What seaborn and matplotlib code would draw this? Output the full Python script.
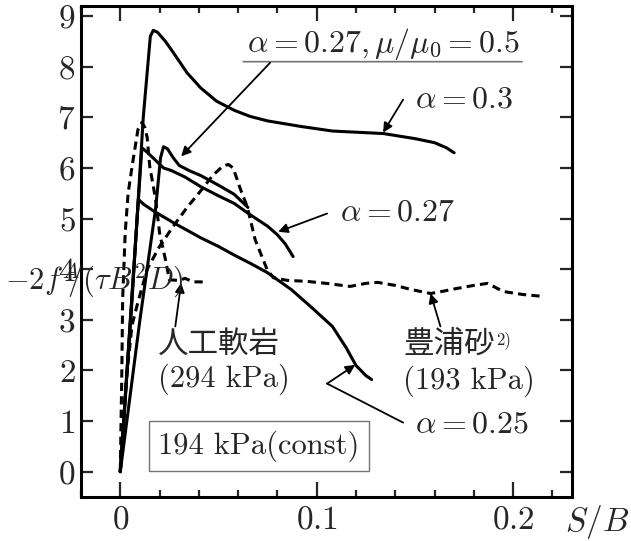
import numpy as np
import pandas as pd
import matplotlib
matplotlib.use('Agg')
import matplotlib.pyplot as plt
import seaborn as sns

# curves (S/B, -2f/(tau B^2 D))
A30_X = [0, 0.006, 0.0117, 0.0153, 0.0168, 0.019, 0.023, 0.027, 0.034, 0.041, 0.049, 0.058,
         0.066, 0.075, 0.092, 0.108, 0.134, 0.150, 0.160, 0.166, 0.170]
A30_Y = [0, 3.4, 7.0, 8.6, 8.72, 8.68, 8.5, 8.28, 7.88, 7.58, 7.32, 7.14,
         7.02, 6.93, 6.82, 6.73, 6.68, 6.58, 6.5, 6.4, 6.3]

A27MU_X = [0, 0.010, 0.018, 0.0205, 0.022, 0.024, 0.027, 0.030, 0.035, 0.041, 0.050, 0.058, 0.065]
A27MU_Y = [0, 3.0, 5.2, 6.2, 6.42, 6.38, 6.2, 6.05, 5.95, 5.85, 5.66, 5.48, 5.22]

A27_X = [0, 0.011, 0.014, 0.022, 0.026, 0.033, 0.041, 0.050, 0.058, 0.066, 0.075, 0.080, 0.084, 0.088]
A27_Y = [0, 6.4, 6.3, 6.0, 5.95, 5.82, 5.63, 5.45, 5.3, 5.08, 4.85, 4.68, 4.5, 4.25]

A25_X = [0, 0.0092, 0.012, 0.017, 0.027, 0.041, 0.050, 0.058, 0.067, 0.075, 0.087, 0.097,
         0.108, 0.115, 0.120, 0.125, 0.128]
A25_Y = [0, 5.38, 5.28, 5.15, 4.92, 4.62, 4.45, 4.28, 4.1, 3.93, 3.6, 3.26,
         2.87, 2.45, 2.1, 1.9, 1.82]

ROCK_X = [0, 0.0008, 0.0012, 0.0025, 0.004, 0.006, 0.009, 0.011, 0.0125, 0.0137, 0.015, 0.018,
          0.020, 0.023, 0.025, 0.030, 0.033, 0.037, 0.041, 0.044]
ROCK_Y = [0, 2.0, 3.4, 4.72, 5.5, 6.03, 6.76, 6.9, 6.8, 6.6, 6.03, 5.38,
          4.72, 4.19, 3.79, 3.78, 3.82, 3.75, 3.75, 3.73]

SAND_X = [0, 0.003, 0.006, 0.009, 0.0137, 0.020, 0.027, 0.034, 0.041, 0.047, 0.052, 0.055,
          0.0575, 0.061, 0.0646, 0.0687, 0.0748, 0.078, 0.085, 0.095, 0.105, 0.117, 0.125,
          0.131, 0.140, 0.148, 0.158, 0.165, 0.170, 0.180, 0.187, 0.195, 0.205, 0.216]
SAND_Y = [0, 1.8, 2.9, 3.35, 4.0, 4.45, 4.85, 5.22, 5.55, 5.85, 6.03, 6.07,
          6.0, 5.6, 5.24, 4.58, 3.99, 3.83, 3.78, 3.76, 3.72, 3.66, 3.72,
          3.74, 3.68, 3.6, 3.52, 3.57, 3.61, 3.68, 3.72, 3.56, 3.5, 3.46]

Y_TICKS = list(range(10))
X_TICKS = [0, 0.1, 0.2]
X_TICK_LABELS = ['0', '0.1', '0.2']

sns.set_style('ticks')
plt.rcParams['mathtext.fontset'] = 'cm'
plt.rcParams['font.family'] = ['cmr10', 'DejaVu Sans']
plt.rcParams['axes.unicode_minus'] = False

fig = plt.figure(figsize=(6.31, 5.41), dpi=100)
ax = fig.add_axes([81 / 631, 1 - 497 / 541, 491 / 631, 491 / 541])

curves = [
    (A30_X, A30_Y, '-'),
    (A27MU_X, A27MU_Y, '-'),
    (A27_X, A27_Y, '-'),
    (A25_X, A25_Y, '-'),
    (ROCK_X, ROCK_Y, '--'),
    (SAND_X, SAND_Y, '--'),
]
for xs, ys, ls in curves:
    sns.lineplot(x=xs, y=ys, ax=ax, color='k', lw=2.2, linestyle=ls,
                 sort=False, estimator=None)
    if ls == '--':
        ax.lines[-1].set_dashes([2.7, 1.7])

ax.set_xlim(-0.02, 0.23)
ax.set_ylim(-0.5, 9.2)
ax.set_yticks(Y_TICKS)
ax.set_yticklabels([f'${t}$' for t in Y_TICKS])
ax.set_xticks(X_TICKS)
ax.set_xticklabels([f'${t}$' for t in X_TICK_LABELS])
ax.set_xticks(np.arange(-0.02, 0.231, 0.02), minor=True)
ax.tick_params(axis='both', which='both', direction='in', top=True, right=True,
               width=1.6, labelsize=24)
ax.tick_params(axis='x', which='major', length=11, pad=6)
ax.tick_params(axis='x', which='minor', length=5)
ax.tick_params(axis='y', which='major', length=8.5, pad=4)
for sp in ax.spines.values():
    sp.set_linewidth(2.2)
    sp.set_color('k')

arrow = dict(arrowstyle='-|>', color='k', lw=1.3, shrinkA=0, shrinkB=0, mutation_scale=14)
FS = 23

# labels and arrows
ax.text(0.1338, 8.44, r'$\alpha=0.27,\mu/\mu_0=0.5$', fontsize=FS, ha='center', va='center')
ax.annotate('', xy=(0.2046, 8.10), xytext=(0.0626, 8.10),
            arrowprops=dict(arrowstyle='-', color='0.45', lw=1.2, shrinkA=0, shrinkB=0))
ax.annotate('', xy=(0.031, 6.23), xytext=(0.0763, 8.08), arrowprops=arrow)

ax.text(0.150, 7.35, r'$\alpha=0.3$', fontsize=FS, ha='left', va='center')
ax.annotate('', xy=(0.1338, 6.70), xytext=(0.144, 7.35), arrowprops=arrow)

ax.text(0.112, 5.12, r'$\alpha=0.27$', fontsize=FS, ha='left', va='center')
ax.annotate('', xy=(0.0804, 4.74), xytext=(0.1053, 5.10), arrowprops=arrow)

ax.text(0.0193, 2.51, '人工軟岩', fontsize=22, family=['Noto Sans CJK JP'],
        ha='left', va='center')
ax.text(0.0193, 1.82, '(294 kPa)', fontsize=22, ha='left', va='center')
ax.annotate('', xy=(0.031, 3.73), xytext=(0.028, 2.87), arrowprops=arrow)

ax.text(0.144, 2.51, '豊浦砂', fontsize=22, family=['Noto Sans CJK JP'],
        ha='left', va='center')
ax.text(0.1915, 2.60, '2)', fontsize=12, ha='left', va='center')
ax.text(0.144, 1.78, '(193 kPa)', fontsize=22, ha='left', va='center')
ax.annotate('', xy=(0.158, 3.52), xytext=(0.163, 2.87), arrowprops=arrow)

ax.text(0.150, 0.93, r'$\alpha=0.25$', fontsize=FS, ha='left', va='center')
ax.annotate('', xy=(0.1053, 1.74), xytext=(0.144, 0.97),
            arrowprops=dict(arrowstyle='-', color='k', lw=1.3, shrinkA=0, shrinkB=0))
ax.annotate('', xy=(0.1196, 2.11), xytext=(0.1053, 1.74), arrowprops=arrow)

ax.text(0.0707, 0.51, '194 kPa(const)', fontsize=22, ha='center', va='center',
        bbox=dict(boxstyle='square,pad=0.3', fc='white', ec='0.45', lw=1.0))

ax.text(-0.0585, 3.77, r'$-2f^{A}\!\!\!/(\tau B^2D)$', fontsize=22, ha='left', va='center',
        clip_on=False)
fig.text(629 / 631, 1 - 522 / 541, r'$S/B$', fontsize=24, ha='right', va='center')

fig.savefig('out.png', dpi=100)
